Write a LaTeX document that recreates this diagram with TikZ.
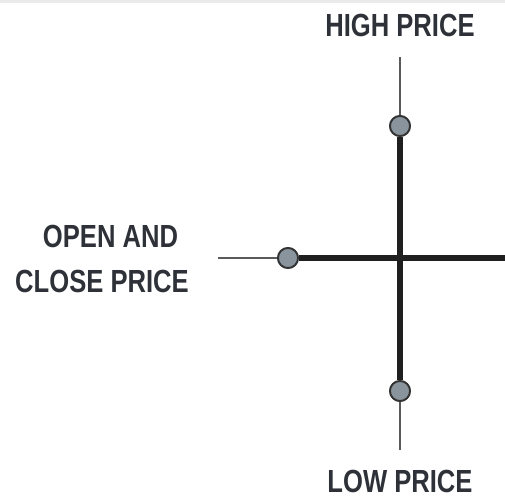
\documentclass[tikz,border=0pt]{standalone}
\usepackage{fontspec}
\newfontfamily\labfont{Liberation Sans}[FakeStretch=0.80]
\definecolor{dotgray}{HTML}{8A949C}
\definecolor{txtgray}{HTML}{2E3238}
\definecolor{thingray}{HTML}{5A5A5A}
\begin{document}
\begin{tikzpicture}[x=1pt,y=-1pt,
  lab/.style={font=\labfont\bfseries\fontsize{32}{45}\selectfont, text=txtgray, inner sep=0pt, align=center},
  thinline/.style={draw=thingray, line width=2pt},
  thickline/.style={draw=black!88, line width=5.5pt},
  dot/.style={circle, draw=black!80, line width=1.8pt, fill=dotgray, minimum size=20pt, inner sep=0pt}]
\useasboundingbox (0,0) rectangle (505,499);
\fill[black!8] (0,0) rectangle (505,2.5);
% coordinates
\coordinate (htop) at (400,57);
\coordinate (lbot) at (400,450);
\coordinate (lft) at (218,258);
\coordinate (rgt) at (505,258);
\node[dot] (high) at (400,126) {};
\node[dot] (low) at (400,391) {};
\node[dot] (open) at (288,258) {};
% lines
\draw[thinline] (htop) -- (high);
\draw[thinline] (low) -- (lbot);
\draw[thinline] (lft) -- (open);
\draw[thickline] (high) -- (low);
\draw[thickline] (open) -- (rgt);
\node[dot] at (high) {};
\node[dot] at (low) {};
\node[dot] at (open) {};
% labels
\node[lab] (thigh) at (400,25) {HIGH PRICE};
\node[lab] (tlow) at (400,481) {LOW PRICE};
\node[lab] (topen) at (102,259) {\hspace*{17pt}OPEN AND\\CLOSE PRICE};
\end{tikzpicture}
\end{document}
